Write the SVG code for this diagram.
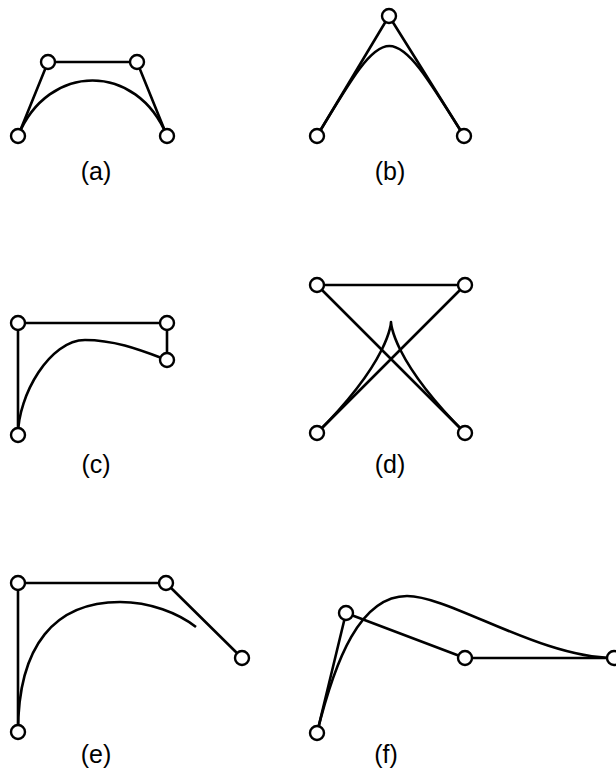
<svg xmlns="http://www.w3.org/2000/svg" width="616" height="771" viewBox="0 0 616 771">
<style>
.ln{fill:none;stroke:#000;stroke-width:2.6;stroke-linejoin:round}
.cv{fill:none;stroke:#000;stroke-width:2.6}
.pt{fill:#fff;stroke:#000;stroke-width:2.4}
.lb{font-family:"Liberation Sans",Arial,sans-serif;font-size:25px;text-anchor:middle;fill:#000}
</style>
<rect width="616" height="771" fill="#fff"/>
<g id="connectors">
  <polyline class="ln" points="18,136 48,62 137,62 167,136"/>
  <path class="cv" d="M18,136 C48,62 137,62 167,136"/>
  <polyline class="ln" points="317,136 389,16 464,136"/>
  <path class="cv" d="M317,136 C389,16 389,16 464,136"/>
  <polyline class="ln" points="18,435 18,323 167,323 167,360"/>
  <path class="cv" d="M18,435 C18,395 50,340 85,340 C115,340 140,350 167,360"/>
  <polyline class="ln" points="317,433 465,285 317,285 465,433"/>
  <path class="cv" d="M317,433 C465,285 317,285 465,433"/>
  <polyline class="ln" points="18,732 18,583 166,583 242,658"/>
  <path class="cv" d="M18,732 C18,645 55,602 120,602 C150,602 178,613 196,627"/>
  <polyline class="ln" points="317,733 346,613 465,658 614,658"/>
  <path class="cv" d="M317,733 C335,660 360,596 407,596 C450,596 540,658 614,658"/>
</g>
<g id="panel-a">
  <circle class="pt" cx="18" cy="136" r="7"/><circle class="pt" cx="48" cy="62" r="7"/>
  <circle class="pt" cx="137" cy="62" r="7"/><circle class="pt" cx="167" cy="136" r="7"/>
  <text class="lb" x="96" y="180">(a)</text>
</g>
<g id="panel-b">
  <circle class="pt" cx="317" cy="136" r="7"/><circle class="pt" cx="389" cy="16" r="7"/>
  <circle class="pt" cx="464" cy="136" r="7"/>
  <text class="lb" x="390" y="180">(b)</text>
</g>
<g id="panel-c">
  <circle class="pt" cx="18" cy="435" r="7"/><circle class="pt" cx="18" cy="323" r="7"/>
  <circle class="pt" cx="167" cy="323" r="7"/><circle class="pt" cx="167" cy="360" r="7"/>
  <text class="lb" x="96" y="473">(c)</text>
</g>
<g id="panel-d">
  <circle class="pt" cx="317" cy="433" r="7"/><circle class="pt" cx="465" cy="285" r="7"/>
  <circle class="pt" cx="317" cy="285" r="7"/><circle class="pt" cx="465" cy="433" r="7"/>
  <text class="lb" x="390" y="473">(d)</text>
</g>
<g id="panel-e">
  <circle class="pt" cx="18" cy="732" r="7"/><circle class="pt" cx="18" cy="583" r="7"/>
  <circle class="pt" cx="166" cy="583" r="7"/><circle class="pt" cx="242" cy="658" r="7"/>
  <text class="lb" x="96" y="763">(e)</text>
</g>
<g id="panel-f">
  <circle class="pt" cx="317" cy="733" r="7"/><circle class="pt" cx="346" cy="613" r="7"/>
  <circle class="pt" cx="465" cy="658" r="7"/><circle class="pt" cx="614" cy="658" r="7"/>
  <text class="lb" x="386" y="763">(f)</text>
</g>
</svg>
